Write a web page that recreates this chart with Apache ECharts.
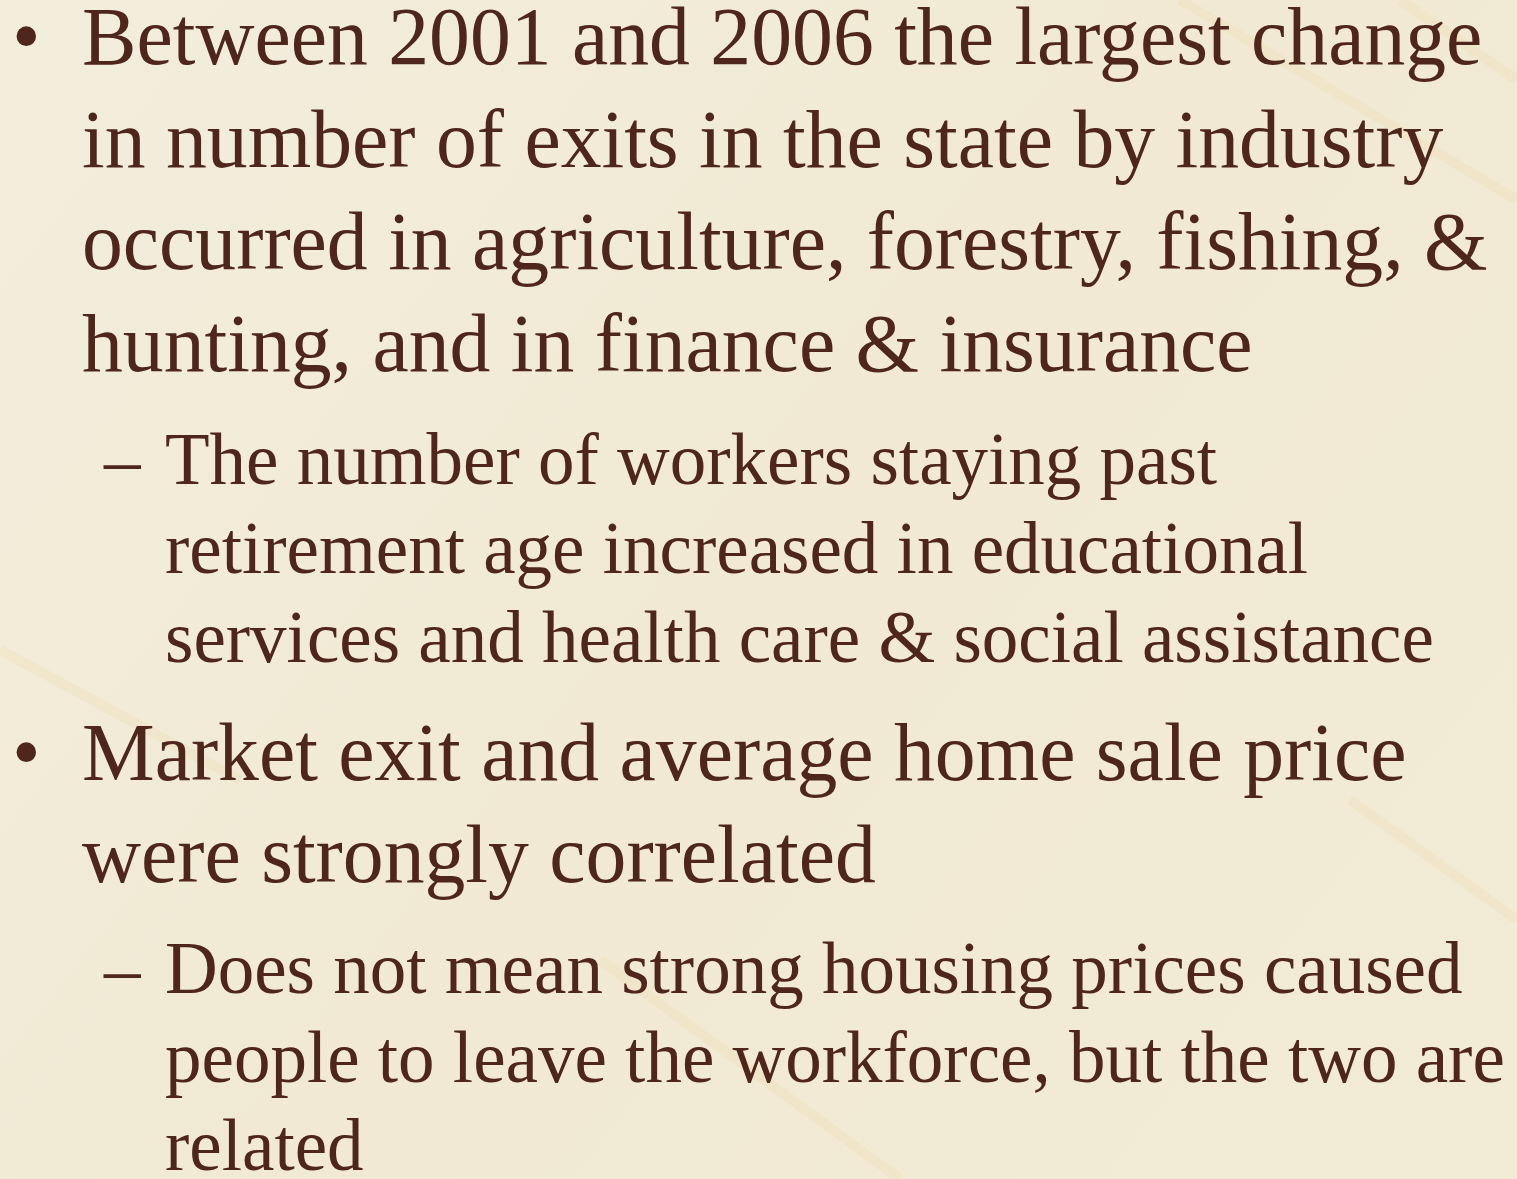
<!DOCTYPE html>
<html><head><meta charset="utf-8">
<script src="https://cdn.jsdelivr.net/npm/echarts@6/dist/echarts.min.js"></script>
<style>html,body{margin:0;padding:0;background:#f1ebd7;}#c{width:1517px;height:1179px;}</style>
</head><body><div id="c"></div>
<script>
const bullet1Lines = ["Between 2001 and 2006 the largest change", "in number of exits in the state by industry", "occurred in agriculture, forestry, fishing, &", "hunting, and in finance & insurance"];
const sub1Lines = ["The number of workers staying past", "retirement age increased in educational", "services and health care & social assistance"];
const bullet2Lines = ["Market exit and average home sale price", "were strongly correlated"];
const sub2Lines = ["Does not mean strong housing prices caused", "people to leave the workforce, but the two are", "related"];

const FONT = '"Liberation Serif", "DejaVu Serif", serif';
const COLOR = '#4f261c';
const blocks = [
  {lines: bullet1Lines, level: 0, base: 66, step: 102.3},
  {lines: sub1Lines, level: 1, base: 486, step: 89},
  {lines: bullet2Lines, level: 0, base: 782, step: 102},
  {lines: sub2Lines, level: 1, base: 995, step: 88.5}
];
const lvl = [
  {size: 81.7, x: 82, marker: '•', mx: 12, msize: 81.7},
  {size: 73, x: 165, marker: '–', mx: 104, msize: 73}
];
const els = [];
els.push({type: 'rect', shape: {x: 0, y: 0, width: 1517, height: 1179}, z: -10,
  style: {fill: new echarts.graphic.LinearGradient(0, 0, 1, 1, [
    {offset: 0, color: '#f2eedc'}, {offset: 0.5, color: '#f1e9d3'}, {offset: 1, color: '#f2ebd6'}])}});
const streaks = [[1180,0,1517,200],[1400,0,1517,80],[0,650,240,780],[600,960,900,1179],[1350,800,1517,920]];
streaks.forEach(s => els.push({type: 'line', z: -9, shape: {x1: s[0], y1: s[1], x2: s[2], y2: s[3]},
  style: {stroke: 'rgba(236,212,165,0.22)', lineWidth: 10}}));
const ASC = 0.785;
blocks.forEach(b => {
  const L = lvl[b.level];
  b.lines.forEach((t, i) => {
    const y = b.base + i * b.step - ASC * L.size;
    els.push({type: 'text', x: L.x, y: y, style: {text: t, font: L.size + 'px ' + FONT, fill: COLOR, verticalAlign: 'top'}});
    if (i === 0) els.push({type: 'text', x: L.mx, y: y, style: {text: L.marker, font: L.msize + 'px ' + FONT, fill: COLOR, verticalAlign: 'top'}});
  });
});
const chart = echarts.init(document.getElementById('c'));
chart.setOption({backgroundColor: '#f1ebd7', graphic: {elements: els}});
</script></body></html>
